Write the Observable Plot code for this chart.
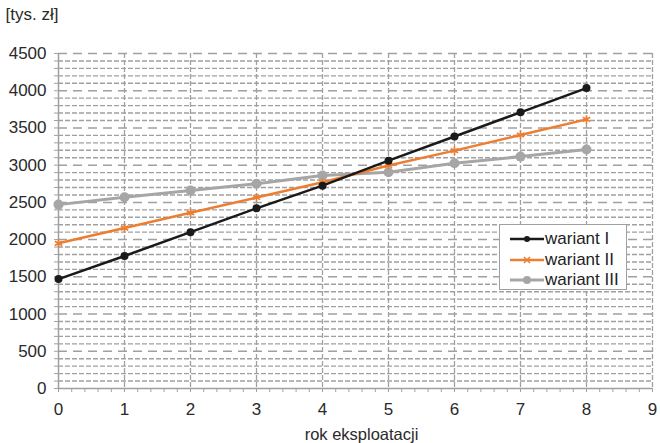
<!DOCTYPE html>
<html>
<head>
<meta charset="utf-8">
<script src="https://cdn.jsdelivr.net/npm/d3@7"></script>
<script src="https://cdn.jsdelivr.net/npm/@observablehq/plot@0.6"></script>
<style>
  html, body { margin: 0; padding: 0; background: #fff; }
  #wrap { position: relative; width: 660px; height: 443px; font-family: "Liberation Sans", Arial, sans-serif; }
  #legend { position: absolute; left: 499px; top: 224px; width: 126px; height: 64px; border: 1px solid #a0a0a0; background: #fff; }
  .item { position: absolute; left: 0; height: 20px; display: flex; align-items: center; font-size: 17px; color: #222; }
  .item svg { margin-left: 10px; margin-right: 1px; }
</style>
</head>
<body>
<div id="wrap"><div id="legend"></div></div>
<script>
const years = [0, 1, 2, 3, 4, 5, 6, 7, 8];
const wariantI   = [1470, 1780, 2100, 2420, 2725, 3060, 3385, 3710, 4035];
const wariantII  = [1950, 2155, 2360, 2565, 2770, 2995, 3195, 3405, 3615];
const wariantIII = [2470, 2570, 2660, 2750, 2860, 2905, 3025, 3115, 3210];
const seriesNames = ["wariant I", "wariant II", "wariant III"];
const xTicks = [0, 1, 2, 3, 4, 5, 6, 7, 8, 9];
const yTicks = [0, 500, 1000, 1500, 2000, 2500, 3000, 3500, 4000, 4500];
const yLabel = "[tys. zł]";
const xLabel = "rok eksploatacji";

const colors = {"wariant I": "#1a1a1a", "wariant II": "#ed7d31", "wariant III": "#a6a6a6"};
const gridColor = "#a0a0a0";

const rows = [];
[wariantI, wariantII, wariantIII].forEach((vals, i) => {
  vals.forEach((v, j) => rows.push({series: seriesNames[i], x: years[j], y: v}));
});
const sel = s => rows.filter(d => d.series === s);

const minorY = d3.range(100, 4500, 100).filter(v => v % 500 !== 0);
const majorY = yTicks.filter(v => v > 0);
const minorX = d3.range(0, 46).map(i => i / 5);
const gridX = xTicks.filter(v => v > 0);

const chart = Plot.plot({
  width: 660,
  height: 443,
  marginLeft: 58,
  marginRight: 8,
  marginTop: 53,
  marginBottom: 55,
  style: {fontFamily: "Liberation Sans, Arial, sans-serif", fontSize: "17px", background: "white", color: "#2a2a2a"},
  x: {domain: [0, 9]},
  y: {domain: [0, 4500]},
  marks: [
    Plot.ruleY(minorY, {stroke: gridColor, strokeWidth: 1.4, strokeDasharray: "5,2"}),
    Plot.ruleY(majorY, {stroke: gridColor, strokeWidth: 1.5, strokeDasharray: "9,6"}),
    Plot.ruleX(gridX, {stroke: gridColor, strokeWidth: 1.3, strokeDasharray: "5,2"}),
    Plot.ruleX([0], {stroke: gridColor, strokeWidth: 1.5}),
    Plot.ruleY([0], {stroke: gridColor, strokeWidth: 1.5}),
    Plot.axisY(d3.range(0, 4501, 100), {tickSize: 4, tickFormat: () => "", label: null, stroke: gridColor}),
    Plot.axisX(minorX, {tickSize: 4, tickFormat: () => "", label: null, stroke: gridColor}),
    Plot.axisY(yTicks, {tickSize: 0, tickPadding: 12, fontSize: 17, tickFormat: d => String(d), label: null}),
    Plot.axisX(xTicks, {tickSize: 0, tickPadding: 14, fontSize: 17, tickFormat: d => String(d), label: null}),
    Plot.text([yLabel], {frameAnchor: "top-left", text: d => d, dx: -53, dy: -46, textAnchor: "start", fontSize: 17, fill: "#2a2a2a"}),
    Plot.text([xLabel], {frameAnchor: "bottom", text: d => d, dx: 6, dy: 51, fontSize: 16.5, fill: "#2a2a2a"}),
    // wariant III
    Plot.line(sel("wariant III"), {x: "x", y: "y", stroke: colors["wariant III"], strokeWidth: 3}),
    Plot.dot(sel("wariant III"), {x: "x", y: "y", r: 5, fill: colors["wariant III"]}),
    // wariant II
    Plot.line(sel("wariant II"), {x: "x", y: "y", stroke: colors["wariant II"], strokeWidth: 2.5}),
    Plot.dot(sel("wariant II"), {x: "x", y: "y", r: 4, symbol: "asterisk", stroke: colors["wariant II"], strokeWidth: 1.6}),
    // wariant I
    Plot.line(sel("wariant I"), {x: "x", y: "y", stroke: colors["wariant I"], strokeWidth: 2.5}),
    Plot.dot(sel("wariant I"), {x: "x", y: "y", r: 4, fill: colors["wariant I"]})
  ]
});
const wrap = document.getElementById("wrap");
wrap.insertBefore(chart, wrap.firstChild);

const legend = document.getElementById("legend");
seriesNames.forEach((name, i) => {
  const c = colors[name];
  let marker;
  if (name === "wariant I") marker = `<circle cx="17" cy="6" r="3" fill="${c}"/>`;
  else if (name === "wariant II") marker = `<path d="M14,3L20,9M20,3L14,9" stroke="${c}" stroke-width="1.5"/>`;
  else marker = `<circle cx="17" cy="6" r="4" fill="${c}"/>`;
  const div = document.createElement("div");
  div.className = "item";
  div.style.top = (4 + i * 20.5) + "px";
  div.innerHTML = `<svg width="34" height="12"><line x1="0" y1="6" x2="34" y2="6" stroke="${c}" stroke-width="${name === 'wariant III' ? 3 : 2.5}"/>${marker}</svg><span>${name}</span>`;
  legend.appendChild(div);
});
</script>
</body>
</html>
